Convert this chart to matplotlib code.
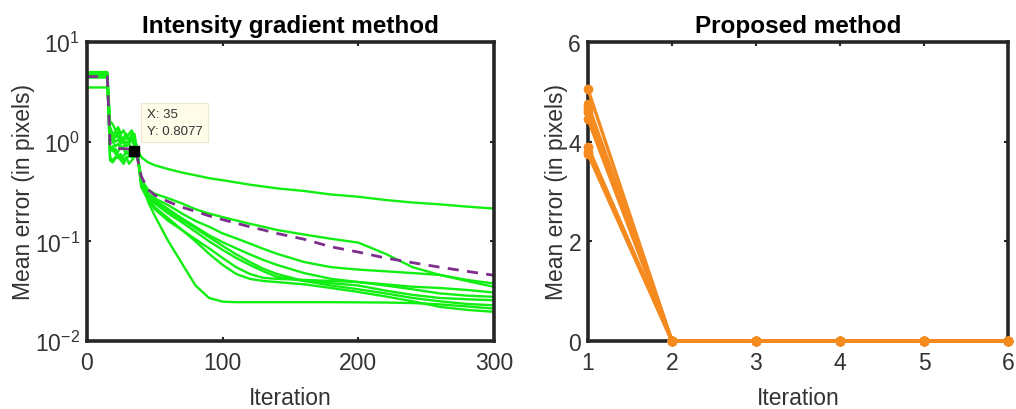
import matplotlib
matplotlib.use('Agg')
import matplotlib.pyplot as plt

plt.rcParams['font.family'] = ['Liberation Sans', 'DejaVu Sans']
plt.rcParams['mathtext.default'] = 'regular'

# ---------------- data: intensity gradient method ----------------
iter_x = [0, 15, 17, 19, 21, 23, 25, 27, 29, 31, 33, 35, 37, 40, 45, 50, 60, 70, 80, 90,
          100, 110, 120, 130, 140, 160, 180, 200, 220, 240, 260, 280, 300]

grad_1 = [5.0, 5.0, 1.6, 1.5, 1.3, 1.4, 1.2, 1.3, 1.1, 1.2, 1.3, 1.1, 0.85, 0.70, 0.62, 0.58, 0.53, 0.49, 0.46, 0.43,
          0.41, 0.39, 0.37, 0.355, 0.34, 0.32, 0.295, 0.28, 0.26, 0.245, 0.235, 0.223, 0.213]
grad_2 = [4.9, 4.9, 1.3, 1.2, 1.25, 1.1, 1.15, 1.0, 1.1, 1.05, 1.2, 1.0, 0.80, 0.42, 0.33, 0.30, 0.27, 0.24, 0.21, 0.19,
          0.175, 0.162, 0.15, 0.14, 0.13, 0.117, 0.106, 0.097, 0.075, 0.055, 0.046, 0.040, 0.0349]
grad_3 = [4.8, 4.8, 0.70, 0.65, 0.70, 0.75, 0.68, 0.72, 0.80, 0.75, 0.78, 0.80, 0.75, 0.40, 0.30, 0.27, 0.23, 0.19, 0.16, 0.14,
          0.12, 0.107, 0.095, 0.084, 0.075, 0.062, 0.055, 0.052, 0.050, 0.048, 0.046, 0.041, 0.0377]
grad_4 = [4.7, 4.7, 0.65, 0.62, 0.68, 0.70, 0.65, 0.60, 0.68, 0.72, 0.70, 0.75, 0.70, 0.45, 0.25, 0.18, 0.10, 0.06, 0.036, 0.027,
          0.0248, 0.0245, 0.0245, 0.0245, 0.0245, 0.0245, 0.0245, 0.0244, 0.0243, 0.024, 0.0233, 0.0222, 0.0211]
grad_5 = [4.6, 4.6, 1.1, 1.0, 0.9, 0.95, 0.85, 0.9, 1.0, 0.95, 1.05, 0.9, 0.80, 0.35, 0.26, 0.21, 0.16, 0.13, 0.105, 0.085,
          0.068, 0.055, 0.047, 0.043, 0.042, 0.041, 0.040, 0.039, 0.036, 0.033, 0.030, 0.0285, 0.0277]
grad_6 = [4.5, 4.5, 0.9, 0.8, 0.85, 0.70, 0.75, 0.65, 0.70, 0.60, 0.65, 0.70, 0.75, 0.42, 0.30, 0.26, 0.21, 0.17, 0.14, 0.115,
          0.098, 0.085, 0.074, 0.065, 0.058, 0.048, 0.042, 0.039, 0.037, 0.035, 0.034, 0.0325, 0.0306]
grad_7 = [4.5, 4.5, 1.4, 1.2, 1.1, 1.3, 1.0, 1.1, 1.2, 1.0, 1.1, 1.2, 0.80, 0.38, 0.28, 0.24, 0.19, 0.155, 0.125, 0.10,
          0.082, 0.068, 0.058, 0.050, 0.044, 0.040, 0.038, 0.036, 0.032, 0.029, 0.027, 0.0262, 0.0256]
grad_8 = [4.4, 4.4, 0.8, 0.9, 0.75, 0.8, 0.9, 0.85, 0.75, 0.8, 0.7, 0.8, 0.78, 0.40, 0.29, 0.25, 0.20, 0.165, 0.135, 0.11,
          0.09, 0.074, 0.062, 0.053, 0.047, 0.040, 0.036, 0.033, 0.030, 0.027, 0.025, 0.0235, 0.0228]
grad_9 = [3.5, 3.5, 1.2, 1.1, 1.0, 1.05, 0.95, 1.0, 0.9, 0.95, 0.85, 0.9, 0.80, 0.36, 0.27, 0.22, 0.17, 0.13, 0.10, 0.075,
          0.058, 0.047, 0.042, 0.040, 0.039, 0.037, 0.034, 0.031, 0.028, 0.025, 0.022, 0.0205, 0.0196]
grad_mean = [4.5, 4.5, 0.95, 0.9, 0.87, 0.86, 0.85, 0.85, 0.85, 0.84, 0.83, 0.8077, 0.70, 0.45, 0.33, 0.29, 0.25, 0.22, 0.20, 0.18,
             0.165, 0.152, 0.14, 0.13, 0.12, 0.105, 0.088, 0.078, 0.068, 0.061, 0.055, 0.050, 0.0456]
grad_curves = [grad_1, grad_2, grad_3, grad_4, grad_5, grad_6, grad_7, grad_8, grad_9]

tip_x = 35
tip_y = 0.8077

# ---------------- data: proposed method ----------------
prop_x = [1, 2, 3, 4, 5, 6]
prop_start = [5.05, 4.75, 4.7, 4.65, 4.6, 4.45, 3.9, 3.8, 3.75]
prop_rest = [0, 0, 0, 0, 0]

GREEN = '#11ee11'
PURPLE = '#7e2f8e'
ORANGE = '#f58a1f'
FRAME = '#262626'

fig = plt.figure(figsize=(10.16, 4.10), dpi=100)
ax1 = fig.add_axes([0.0856, 0.166, 0.4006, 0.729])
ax2 = fig.add_axes([0.5787, 0.166, 0.4134, 0.729])

# left panel
for c in grad_curves:
    ax1.plot(iter_x, c, color=GREEN, linewidth=1.7)
ax1.plot(iter_x, grad_mean, color=PURPLE, linewidth=2.0, linestyle=(0, (4, 3)))
ax1.plot([tip_x], [tip_y], marker='s', color='black', markersize=7, linestyle='none', zorder=5)
ax1.text(44, 1.55, f'X: {tip_x}\nY: {tip_y}', fontsize=9.5, color='#333333', va='center', ha='left',
         linespacing=1.5,
         bbox=dict(boxstyle='square,pad=0.4', facecolor='#fffcea', edgecolor='#ece8d0', linewidth=0.8))
ax1.set_yscale('log')
ax1.set_xlim(0, 300)
ax1.set_ylim(1e-2, 1e1)
ax1.set_xticks([0, 100, 200, 300])
ax1.set_yticks([1e-2, 1e-1, 1e0, 1e1])
ax1.minorticks_off()
ax1.set_title('Intensity gradient method', fontsize=17.5, fontweight='bold', pad=7)
ax1.set_xlabel('Iteration', fontsize=16.5, color='#333333', labelpad=9)
ax1.set_ylabel('Mean error (in pixels)', fontsize=16.5, color='#333333', labelpad=0)

# right panel
for v in prop_start:
    ax2.plot(prop_x, [v] + prop_rest, color=ORANGE, linewidth=2.4, marker='o', markersize=6,
             clip_on=False, zorder=3)
ax2.set_xlim(1, 6)
ax2.set_ylim(0, 6)
ax2.set_xticks(prop_x)
ax2.set_yticks([0, 2, 4, 6])
ax2.set_title('Proposed method', fontsize=17.5, fontweight='bold', pad=7)
ax2.set_xlabel('Iteration', fontsize=16.5, color='#333333', labelpad=9)
ax2.set_ylabel('Mean error (in pixels)', fontsize=16.5, color='#333333', labelpad=0)

for ax in (ax1, ax2):
    for s in ax.spines.values():
        s.set_linewidth(2.6)
        s.set_color(FRAME)
    ax.tick_params(direction='in', length=3, width=1.5, top=True, right=True,
                   labelsize=16.5, labelcolor='#333333', color=FRAME, pad=7)
    ax.tick_params(axis='y', pad=5)

plt.savefig('out.png', dpi=100)
